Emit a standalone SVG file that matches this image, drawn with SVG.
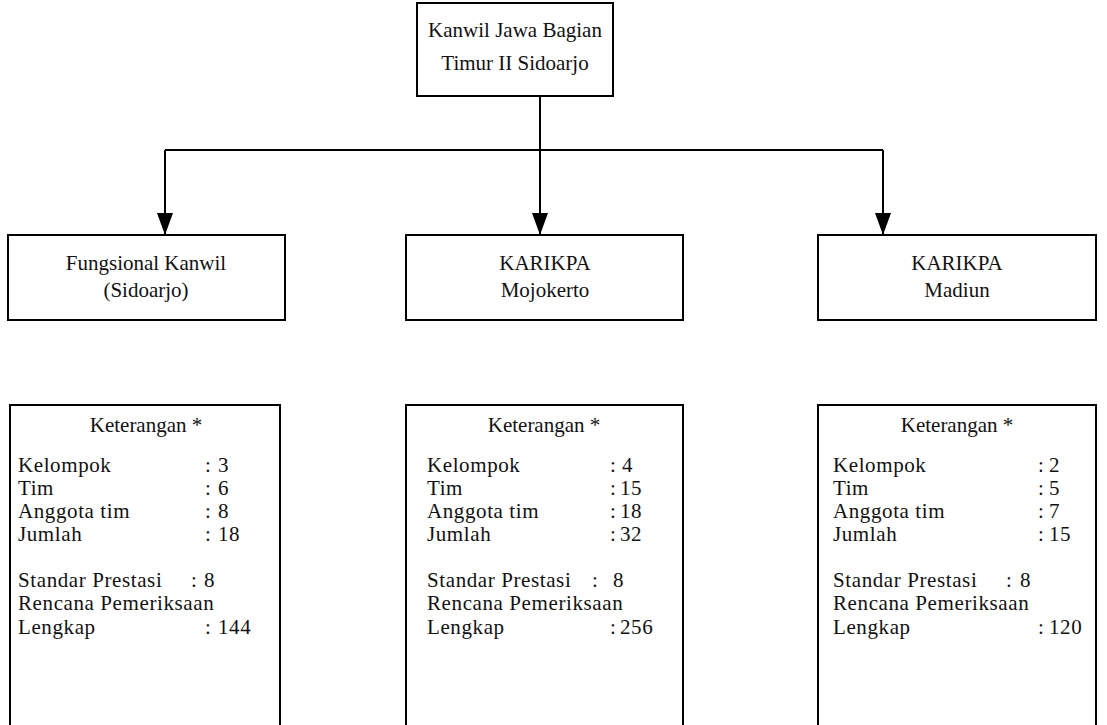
<svg xmlns="http://www.w3.org/2000/svg" width="1107" height="725" viewBox="0 0 1107 725">
<defs>
<marker id="arr" markerWidth="22" markerHeight="16" refX="22" refY="8" orient="auto" markerUnits="userSpaceOnUse" viewBox="0 0 22 16">
<path d="M0,0 L22,8 L0,16 Z" fill="#000"/>
</marker>
</defs>
<style>
.box{fill:#fff;stroke:#000;stroke-width:2}
.t{font-family:"Liberation Serif","Times New Roman",serif;font-size:21px;fill:#111}
.k{letter-spacing:0.6px}
.c{text-anchor:middle}
.ln{fill:none;stroke:#000;stroke-width:2}
</style>
<rect width="1107" height="725" fill="#fff"/>
<g id="connectors">
<path class="ln" d="M540,96 V150"/>
<path class="ln" d="M165,150 H883"/>
<path class="ln" d="M165,150 V235" marker-end="url(#arr)"/>
<path class="ln" d="M540,150 V235" marker-end="url(#arr)"/>
<path class="ln" d="M883,150 V235" marker-end="url(#arr)"/>
</g>
<g id="kanwil">
<rect class="box" x="417" y="3" width="196" height="93"/>
<text class="t c" x="515" y="37">Kanwil Jawa Bagian</text>
<text class="t c" x="515" y="70">Timur II Sidoarjo</text>
</g>
<g id="fungsional">
<rect class="box" x="8" y="235" width="277" height="85"/>
<text class="t c" x="146" y="270">Fungsional Kanwil</text>
<text class="t c" x="146" y="297">(Sidoarjo)</text>
</g>
<g id="mojokerto">
<rect class="box" x="406" y="235" width="277" height="85"/>
<text class="t c" x="545" y="270">KARIKPA</text>
<text class="t c" x="545" y="297">Mojokerto</text>
</g>
<g id="madiun">
<rect class="box" x="818" y="235" width="278" height="85"/>
<text class="t c" x="957" y="270">KARIKPA</text>
<text class="t c" x="957" y="297">Madiun</text>
</g>
<g id="ket-sidoarjo">
<rect class="box" x="10" y="405" width="270" height="330"/>
<text class="t c" x="146" y="432">Keterangan *</text>
<g class="t k">
<text x="18" y="472">Kelompok</text><text x="205" y="472">:</text><text x="218" y="472">3</text>
<text x="18" y="495">Tim</text><text x="205" y="495">:</text><text x="218" y="495">6</text>
<text x="18" y="518">Anggota tim</text><text x="205" y="518">:</text><text x="218" y="518">8</text>
<text x="18" y="541">Jumlah</text><text x="205" y="541">:</text><text x="218" y="541">18</text>
<text x="18" y="587">Standar Prestasi</text><text x="191" y="587">:</text><text x="204" y="587">8</text>
<text x="18" y="610">Rencana Pemeriksaan</text>
<text x="18" y="634">Lengkap</text><text x="205" y="634">:</text><text x="218" y="634">144</text>
</g>
</g>
<g id="ket-mojokerto">
<rect class="box" x="406" y="405" width="277" height="330"/>
<text class="t c" x="544" y="432">Keterangan *</text>
<g class="t k">
<text x="427" y="472">Kelompok</text><text x="610" y="472">:</text><text x="622" y="472">4</text>
<text x="427" y="495">Tim</text><text x="610" y="495">:</text><text x="620" y="495">15</text>
<text x="427" y="518">Anggota tim</text><text x="610" y="518">:</text><text x="620" y="518">18</text>
<text x="427" y="541">Jumlah</text><text x="610" y="541">:</text><text x="620" y="541">32</text>
<text x="427" y="587">Standar Prestasi</text><text x="592" y="587">:</text><text x="613" y="587">8</text>
<text x="427" y="610">Rencana Pemeriksaan</text>
<text x="427" y="634">Lengkap</text><text x="610" y="634">:</text><text x="620" y="634">256</text>
</g>
</g>
<g id="ket-madiun">
<rect class="box" x="818" y="405" width="278" height="330"/>
<text class="t c" x="957" y="432">Keterangan *</text>
<g class="t k">
<text x="833" y="472">Kelompok</text><text x="1038" y="472">:</text><text x="1049" y="472">2</text>
<text x="833" y="495">Tim</text><text x="1038" y="495">:</text><text x="1049" y="495">5</text>
<text x="833" y="518">Anggota tim</text><text x="1038" y="518">:</text><text x="1049" y="518">7</text>
<text x="833" y="541">Jumlah</text><text x="1038" y="541">:</text><text x="1049" y="541">15</text>
<text x="833" y="587">Standar Prestasi</text><text x="1006" y="587">:</text><text x="1020" y="587">8</text>
<text x="833" y="610">Rencana Pemeriksaan</text>
<text x="833" y="634">Lengkap</text><text x="1038" y="634">:</text><text x="1049" y="634">120</text>
</g>
</g>
</svg>
